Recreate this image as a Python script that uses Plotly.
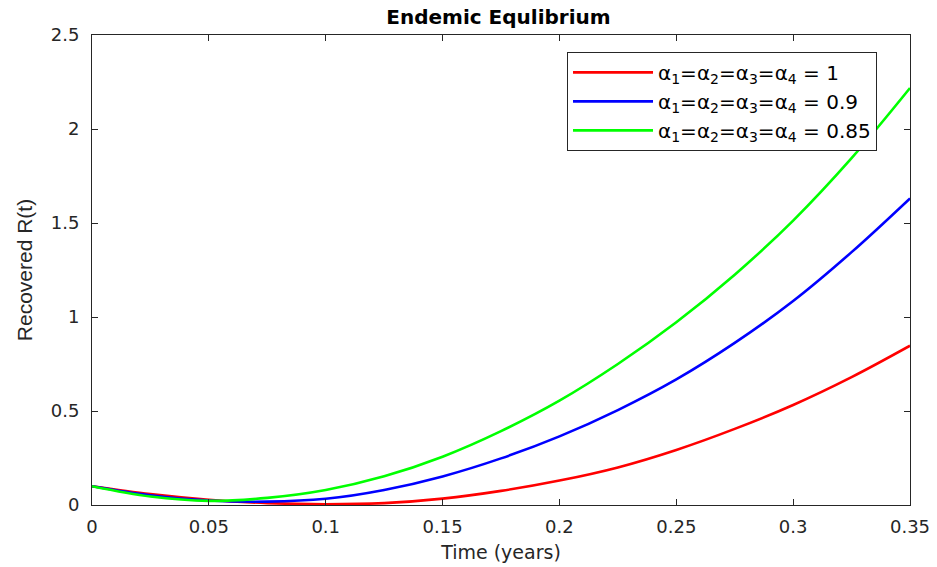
import plotly.graph_objects as go

t = [0, 0.025, 0.05, 0.075, 0.1, 0.125, 0.15, 0.175, 0.2, 0.225, 0.25, 0.275, 0.3, 0.325, 0.35]
r_1 = [0.1, 0.058, 0.028, 0.01, 0.004, 0.01, 0.034, 0.075, 0.13, 0.2, 0.293, 0.405, 0.532, 0.68, 0.847]
r_09 = [0.1, 0.052, 0.024, 0.018, 0.033, 0.08, 0.152, 0.248, 0.365, 0.505, 0.668, 0.862, 1.085, 1.345, 1.631]
r_085 = [0.1, 0.045, 0.022, 0.038, 0.08, 0.153, 0.257, 0.393, 0.555, 0.75, 0.972, 1.225, 1.513, 1.845, 2.218]

labels = [
    "α<sub>1</sub>=α<sub>2</sub>=α<sub>3</sub>=α<sub>4</sub> = 1",
    "α<sub>1</sub>=α<sub>2</sub>=α<sub>3</sub>=α<sub>4</sub> = 0.9",
    "α<sub>1</sub>=α<sub>2</sub>=α<sub>3</sub>=α<sub>4</sub> = 0.85",
]
colors = ["#ff0000", "#0000ff", "#00ff00"]
series = [r_1, r_09, r_085]

FONT = "DejaVu Sans, Liberation Sans, Arial, sans-serif"

fig = go.Figure()
for y, name, c in zip(series, labels, colors):
    fig.add_trace(go.Scatter(x=t, y=y, mode="lines", name=name,
                             line=dict(color=c, width=2.6, shape="spline", smoothing=1.0)))

axis_common = dict(
    showgrid=False, zeroline=False, showline=True, linecolor="#262626", linewidth=1,
    mirror="ticks", ticks="inside", ticklen=6, tickcolor="#262626", automargin=False,
    tickfont=dict(family=FONT, size=18, color="#262626"),
)

fig.update_layout(
    width=937, height=567,
    margin=dict(l=92, r=27, t=35, b=62),
    paper_bgcolor="white", plot_bgcolor="white",
    title=dict(text="<b>Endemic Equlibrium</b>", x=0.532, xref="container", xanchor="center",
               y=0.97, yref="container", yanchor="middle",
               font=dict(family=FONT, size=20, color="black")),
    xaxis=dict(range=[0, 0.35], tickvals=[0, 0.05, 0.1, 0.15, 0.2, 0.25, 0.3, 0.35],
               ticktext=["0", "0.05", "0.1", "0.15", "0.2", "0.25", "0.3", "0.35"],
               title=dict(text="Time (years)", standoff=10,
                          font=dict(family=FONT, size=19, color="#262626")),
               ticklabelstandoff=5,
               **axis_common),
    yaxis=dict(range=[0, 2.5], tickvals=[0, 0.5, 1, 1.5, 2, 2.5],
               ticktext=["0", "0.5", "1", "1.5", "2", "2.5"],
               title=dict(text="Recovered R(t)", standoff=12,
                          font=dict(family="Liberation Sans Narrow, Liberation Sans, sans-serif", size=21, color="#262626")),
               ticklabelstandoff=8,
               **axis_common),
    legend=dict(x=0.5807, y=0.964, xanchor="left", yanchor="top",
                bgcolor="white", bordercolor="#262626", borderwidth=1,
                font=dict(family=FONT, size=20, color="black"),
                tracegroupgap=0, itemwidth=80),
    showlegend=True,
)

fig.write_html("out.html")
